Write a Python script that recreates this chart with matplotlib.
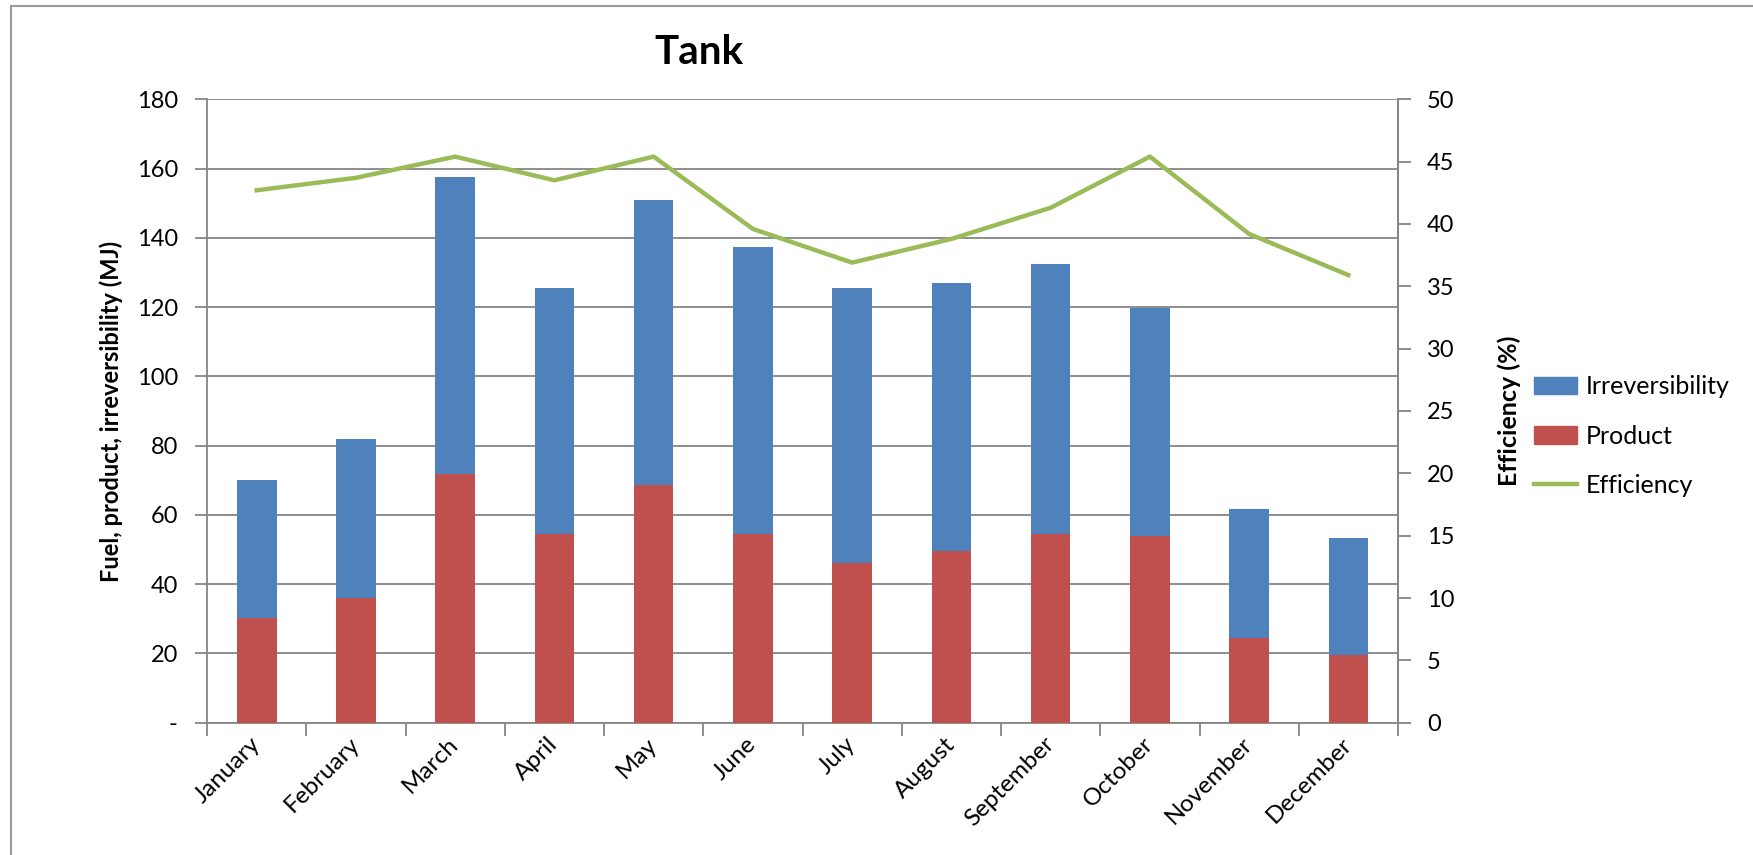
import numpy as np
import matplotlib.pyplot as plt
from matplotlib.patches import Rectangle, Patch
from matplotlib.lines import Line2D

months = ["January", "February", "March", "April", "May", "June",
          "July", "August", "September", "October", "November", "December"]
fuel = [70.1, 82.0, 157.5, 125.4, 151.0, 137.3, 125.4, 127.0, 132.4, 119.6, 61.7, 53.4]
product = [30.2, 36.0, 71.7, 54.6, 68.5, 54.6, 46.0, 49.5, 54.6, 54.0, 24.4, 19.6]
efficiency = [42.7, 43.7, 45.4, 43.5, 45.4, 39.6, 36.9, 38.8, 41.3, 45.4, 39.2, 35.9]

irreversibility = [f - p for f, p in zip(fuel, product)]

BLUE = "#4F81BD"
RED = "#C0504D"
GREEN = "#9BBB59"
GRID = "#868686"

plt.rcParams['font.family'] = ['Lato', 'DejaVu Sans']

fig = plt.figure(figsize=(17.53, 8.55), dpi=100)
fig.patches.append(Rectangle((11 / 1753, -0.1), 1.2, 1.1 - 6 / 855,
                             transform=fig.transFigure, fill=False,
                             edgecolor="#9a9a9a", linewidth=1.5))

ax = fig.add_axes([0.1181, 0.1547, 0.6794, 0.7292])
x = np.arange(len(months))
ax.bar(x, product, width=0.4, color=RED, zorder=3)
ax.bar(x, irreversibility, width=0.4, bottom=product, color=BLUE, zorder=3)

ax.set_xlim(-0.5, len(months) - 0.5)
ax.set_ylim(0, 180)
ax.set_yticks(np.arange(0, 181, 20))
ax.set_yticklabels(["-"] + [str(v) for v in range(20, 181, 20)])
ax.yaxis.grid(True, color=GRID, linewidth=1.3, zorder=0)
ax.set_axisbelow(True)

# month labels sit under the bars, tick marks go between the months
ax.set_xticks(x)
ax.set_xticklabels(months, rotation=45, ha="right", va="center",
                   rotation_mode="anchor", fontsize=17.5)
ax.set_xticks(np.arange(-0.5, len(months)), minor=True)
ax.tick_params(axis="x", which="major", length=0, pad=13)
ax.tick_params(axis="x", which="minor", length=9, color=GRID, width=1.3)
ax.tick_params(axis="y", length=9, color=GRID, width=1.3, labelsize=17, pad=12)

for side in ["left", "bottom", "right"]:
    ax.spines[side].set_color(GRID)
    ax.spines[side].set_linewidth(1.3)
ax.spines["top"].set_visible(False)

ax.set_ylabel("Fuel, product, irreversibility (MJ)", fontsize=17,
              fontweight="bold", labelpad=10)

ax2 = ax.twinx()
ax2.plot(x, efficiency, color=GREEN, linewidth=3.2, zorder=4)
ax2.set_ylim(0, 50)
ax2.set_yticks(np.arange(0, 51, 5))
ax2.tick_params(axis="y", length=9, color=GRID, width=1.3, labelsize=17, pad=12)
for side in ["left", "bottom", "top"]:
    ax2.spines[side].set_visible(False)
ax2.spines["right"].set_color(GRID)
ax2.spines["right"].set_linewidth(1.3)
ax2.set_ylabel("Efficiency (%)", fontsize=18, fontweight="bold", labelpad=31)

fig.text(699 / 1753, 0.939, "Tank", fontsize=29, fontweight="bold",
         ha="center", va="center")

handles = [Patch(color=BLUE), Patch(color=RED),
           Line2D([0], [0], color=GREEN, linewidth=3.2)]
fig.legend(handles, ["Irreversibility", "Product", "Efficiency"],
           loc="center left", bbox_to_anchor=(1534 / 1753, 0.49),
           frameon=False, fontsize=18, handlelength=1.7, handleheight=0.7,
           labelspacing=1.05, handletextpad=0.35, borderpad=0,
           borderaxespad=0)

fig.savefig("out.png", dpi=100)
